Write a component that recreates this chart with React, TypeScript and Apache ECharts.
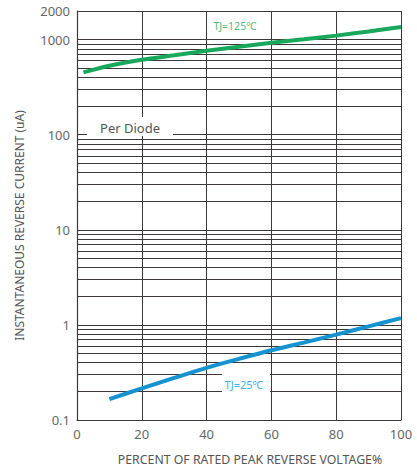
import React, { useEffect, useRef } from "react";
import * as echarts from "echarts";

const greenX = [2, 10, 20, 30, 40, 50, 60, 70, 80, 90, 100];
const greenY = [452, 531, 614, 684, 762, 840, 925, 1009, 1102, 1219, 1360];
const blueX = [10, 20, 30, 40, 50, 60, 70, 80, 90, 100];
const blueY = [0.166, 0.215, 0.277, 0.354, 0.44, 0.542, 0.652, 0.791, 0.966, 1.18];
const minorGrid = [
  0.2, 0.3, 0.4, 0.5, 0.6, 0.7, 0.8, 0.9,
  2, 3, 4, 5, 6, 7, 8, 9,
  20, 30, 40, 50, 60, 70, 80, 90,
  200, 300, 400, 500, 600, 700, 800, 900,
];
const xTicks = [0, 20, 40, 60, 80, 100];
const yMin = 0.1;
const yMax = 2000;
const label125 = "TJ=125\u2103";
const label25 = "TJ=25\u2103";
const perDiode = "Per Diode";
const xTitle = "PERCENT OF RATED PEAK REVERSE VOLTAGE%";
const yTitle = "INSTANTANEOUS REVERSE CURRENT (uA)";

const FONT = "'Noto Sans', sans-serif";
const GRID = "#3e3838";

export default function App() {
  const ref = useRef<HTMLDivElement>(null);
  useEffect(() => {
    document.body.style.margin = "0";
    if (!ref.current) return;
    const chart = echarts.init(ref.current, null, { renderer: "svg" });
    chart.setOption({
      animation: false,
      backgroundColor: "#ffffff",
      textStyle: { fontFamily: FONT },
      grid: { left: 77, right: 16, top: 11, bottom: 48 },
      xAxis: {
        type: "value",
        min: xTicks[0],
        max: xTicks[xTicks.length - 1],
        interval: 20,
        name: xTitle,
        nameLocation: "middle",
        nameGap: 33,
        nameTextStyle: { color: "#555", fontSize: 12.3, fontFamily: FONT, padding: [0, 0, 0, 22] },
        axisLine: { show: true, lineStyle: { color: GRID, width: 1.2 } },
        axisTick: { show: false },
        axisLabel: { color: "#666", fontSize: 13, margin: 7, fontFamily: FONT },
        splitLine: { show: true, lineStyle: { color: GRID, width: 1 } },
      },
      yAxis: {
        type: "log",
        logBase: 10,
        min: yMin,
        max: yMax,
        name: yTitle,
        nameLocation: "middle",
        nameGap: 52,
        nameRotate: 90,
        nameTextStyle: { color: "#555", fontSize: 12, fontFamily: FONT, padding: [0, 20, 0, 0] },
        axisLine: { show: true, lineStyle: { color: GRID, width: 1.2 } },
        axisTick: { show: false },
        axisLabel: {
          color: "#666",
          fontSize: 13,
          margin: 7,
          fontFamily: FONT,
          formatter: (v: number) => String(Math.round(v * 10) / 10),
        },
        splitLine: { show: true, lineStyle: { color: GRID, width: 1 } },
      },
      series: [
        {
          type: "line",
          data: [],
          silent: true,
          markLine: {
            silent: true,
            symbol: ["none", "none"],
            label: { show: false },
            lineStyle: { color: GRID, width: 1, type: "solid" },
            data: minorGrid.map((v) => ({ yAxis: v })),
          },
        },
        {
          type: "line",
          data: greenX.map((x, i) => [x, greenY[i]]),
          smooth: 0.3,
          showSymbol: false,
          lineStyle: { color: "#17a85c", width: 4 },
          z: 5,
        },
        {
          type: "line",
          data: blueX.map((x, i) => [x, blueY[i]]),
          smooth: 0.3,
          showSymbol: false,
          lineStyle: { color: "#1592d0", width: 4 },
          z: 5,
        },
      ],
      graphic: [
        {
          type: "text",
          x: 235,
          y: 26,
          z: 10,
          style: {
            text: label125,
            fill: "#4dbb7d",
            fontSize: 10.5,
            fontFamily: FONT,
            align: "center",
            verticalAlign: "middle",
          },
        },
        {
          type: "rect",
          shape: { x: 222, y: 374, width: 48, height: 22 },
          z: 9,
          style: { fill: "#ffffff" },
        },
        {
          type: "text",
          x: 244,
          y: 384,
          z: 10,
          style: {
            text: label25,
            fill: "#3fb2ea",
            fontSize: 11,
            fontFamily: FONT,
            align: "center",
            verticalAlign: "middle",
          },
        },
        {
          type: "rect",
          shape: { x: 87, y: 117, width: 86, height: 19 },
          z: 9,
          style: { fill: "#ffffff" },
        },
        {
          type: "text",
          x: 130,
          y: 128,
          z: 10,
          style: {
            text: perDiode,
            fill: "#555",
            fontSize: 13,
            fontFamily: FONT,
            align: "center",
            verticalAlign: "middle",
          },
        },
      ],
    });
    return () => chart.dispose();
  }, []);
  return <div ref={ref} style={{ width: 417, height: 470 }} />;
}
